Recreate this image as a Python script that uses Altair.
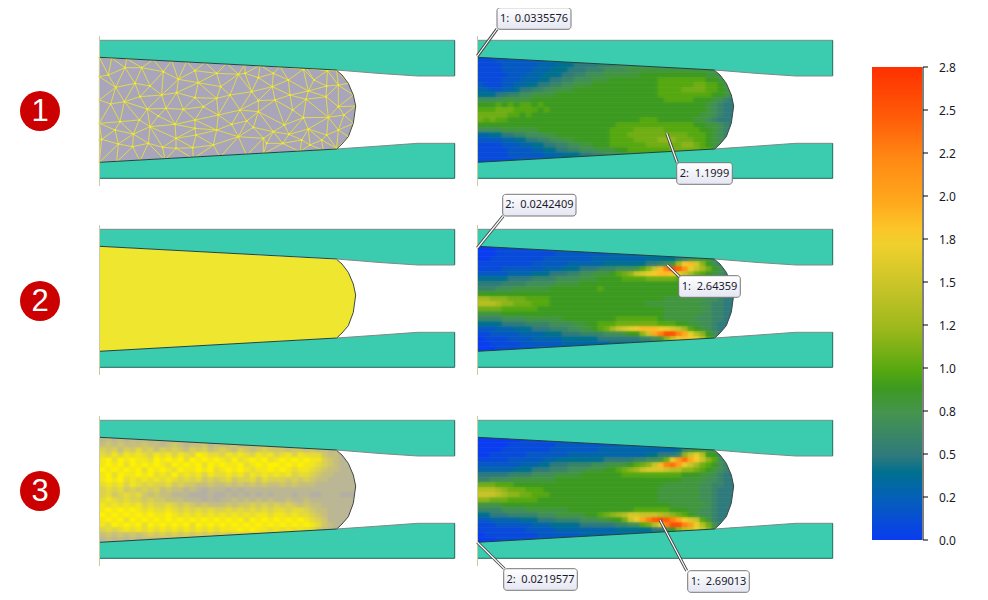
import altair as alt
import pandas as pd

# ---- geometry (image pixels) ----
PANEL_DY = [0, 189, 380]
PANEL_DX = [0, 378]
LEFT_X = 99.5
DIE_TOP_Y, DIE_BOTTOM_Y = 40.3, 178.3
UP_X = [99.5, 336.7, 380, 418, 454.7]
UP_Y = [57.3, 70, 73.5, 76, 76]
LOW_Y = [162.3, 149, 146, 143.3, 143.3]
ARC_X = [99.5, 336.7, 342, 348.3, 353.3, 355.7]
ARC_TOP = [57.3, 70.5, 75, 83.3, 95, 106]
ARC_BOT = [162.3, 149, 144, 136.7, 123.3, 106]
DIE_COL = "#3bcbae"
BILLET_GREY = "#a9a6bb"
MESH2_YEL = "#efe62f"
DENS_HI = (255, 242, 0)
DENS_LO = (169, 166, 187)

# ---- colour scale ----
CB_VALS = [0, .25, .4, .5, .75, .9, 1.0, 1.25, 1.5, 1.75, 1.85, 2.0, 2.25, 2.5, 2.8]
CB_COLS = ["#0a3cf0", "#0560b8", "#00708f", "#2f7a7c", "#45944f", "#3c9a20", "#55a810", "#9cb81c",
           "#c8c428", "#f0d02c", "#fcc428", "#ffa81c", "#ff8a14", "#ff5c08", "#ff3000"]
CB_LABELS = ["0.0", "0.2", "0.5", "0.8", "1.0", "1.2", "1.5", "1.8", "2.0", "2.2", "2.5", "2.8"]
CB_X0, CB_X1, CB_Y0, CB_Y1 = 872, 922, 540, 67

# ---- field values, one character per cell (0-9a-s = 0.0 .. 2.8) ----
ALPHA = "0123456789abcdefghijklmnopqrs"
FIELD1 = """
1112222222 2333444555 5666666666 6666666666666
1111222222 3334445555 6667777777 7777777777666
1111222223 3344455566 6777788888 8888888887766
1111122233 3444556677 7888888999 9999999988766
1111222333 4455667778 8899999999 aaaaaaaa99876
2111223344 5566778889 9999999999 aaaaaabbaa987
3322334556 6778889999 9999999999 aaaabbbbaa987
4445566778 8889999999 9999999999 aaaaaaaaa9987
7777888889 9999999999 9999999999 9aaaaa9998765
999a9a9aa9 a999999999 9999999999 9999999987655
aaabbbaaaa 9a99999999 9999999999 9999999987655
bbbbbaa9a9 9999999999 9999999999 9999999887655
babaa99999 9999999999 9999999aaa 9999998876555
9999999999 9999999999 999aaaaaaa aaaaaa9988765
7777888888 9999999999 99aaaabbbb baaaaaa998765
3344556677 7889999999 99aaabbbbb bbbbbaaa98765
2222334455 6677889999 99aaaabbbb cccbbbaa98765
1111222334 4556677889 99aaaaaabb bbbbccba98765
1111122223 3445566777 88899aaaaa aabbbbbaa9876
1111122222 2333444556 6777888999 9aaaaaaa99886
1111112222 2223334445 5556677888 8999999988876
"""
FIELD2 = """
0001111111 1112222222 2222333333 3333333444444
0001111111 1112222222 2233333333 3333344555555
0011111111 1222222223 3333333344 4445678886655
1111111112 2222233333 3444444455 678dijgc97655
1111222222 2333444555 6667778acf jnqpmhfdb9765
2222233334 4455566778 889abcfghi jjihfdba98765
4444455556 6667777888 9999aaaabb bbbaaa9987655
5555666677 7778888999 9999999999 9999999887655
6667778888 8899999999 a999999999 9999998887655
9999999999 9999999999 9999999999 9999888887665
ddcccbbbaa aa99999999 9999999999 9888888877655
eeedccbbba aa99999999 9999999988 8888888776655
bbbbaaaaaa 9999999999 9999999999 9888888876655
8888999999 9999999999 9999999999 9888888776655
6666777788 8888999999 999aaaaaaa 9888887776655
4444555566 6677778899 aaabbbbbbb aaa9988776555
2223334445 5566677889 abdfghijjj ihgfda9876555
1122222333 3444555666 6777899cfk nqqnkhec97655
0111122223 3333444444 5555555667 8cfhjihea8655
0011111222 2222333333 3344444445 5566667666555
0001111111 2222222233 3333333333 4444444444444
"""
FIELD3 = """
0000000111 1111122222 2223333333 3333333333444
0000011111 1112222222 2223333333 3333333444555
0000111111 1122222222 3333333333 3334679887655
0011111122 2222233333 3333333344 5556cfhe99655
1111122222 2334444444 4555556677 8bhlokifca765
2222222333 4455566667 778889abcf jnolhfdba9765
3333334445 5566677788 899abcdfgg gfeeccba98765
5555566667 7778888999 9999aaaaaa aaaa999887655
6677778888 8889999999 9999999999 9999888877655
bbbaaa9999 9999999999 9999999999 9888888776655
eeedcbbbaa a999999999 9999999999 8888888776555
fffedccbba aa99999999 9999999999 8888888776555
ccbbbaaaaa 9999999999 9999999999 8888888776555
8888999999 9999999999 9999999999 9988888876555
6666777788 8888899999 999999aaaa aa99988776555
4455566666 7778888899 abcdeggfff edcba98776555
2233333444 5556666777 8899bfhknp qpnkigfa86555
1112222223 3344444555 5556677abe hnqqnlheb7655
1111111122 2223333333 3334444445 579cefhfc9765
0111111111 2222222333 3333333333 4444555555555
0001111111 1111222222 2233333333 3333333333333
"""
# density of the mesh in the lower left panel: 0 = grey, 9 = solid yellow
DENSITY3 = """
3434343434 3434343434 3434343434 3333333333333
4545444544 3454344534 4453444543 4443344333333
6564657564 6565465645 6546545655 5455454434333
7686878768 7868769877 6878768786 7868777544333
8979898879 8989798989 8797898978 9898988654333
8989798989 8798989798 9889789899 8989887654333
9898989798 9879889897 8989878898 9878876544333
8979889897 8797878687 7878687878 7867765443333
8989787878 7876767565 6756675766 6565654433333
7878687676 6756554454 4545454544 5454443333333
6767565656 4544343233 3232333333 3333333333333
6756767545 4433322232 2323232323 3323322333222
7876766565 5444333232 3343434343 3433433333333
8787878676 6765654544 4545565656 5654544333333
8989898787 7876767676 6767676767 7677654433333
9898989898 8987878787 8787878878 8787765433333
8989798989 8989898989 8989798989 8989876533333
8798989798 9898979898 9898989898 9898987543333
6767878787 8787878787 8889898878 7878775433333
4545454565 6565656565 6565656565 6565543333333
3434343434 3434343434 3434343434 3434343333333
"""
CELL_W, CELL_H = 6, 5

# ---- mesh nodes of panel 1 (as read in the 3x crop) ----
MESH_NODES = [
 (28,82),(65,84),(110,86),(190,89),(245,92),(290,94),(345,97),(410,100),(465,103),(510,106),(570,110),(650,115),(712,118),(740,122),
 (775,160),(790,195),(797,228),(790,280),(775,320),(740,355),
 (700,361),(630,365),(520,372),(470,376),(390,382),(310,386),(225,390),(150,393),(80,396),(28,397),
 (28,330),(28,280),(28,210),(28,140),
 (55,135),(105,113),(155,113),(135,160),(77,172),(220,125),(265,148),(180,168),(215,195),(260,188),(315,122),(325,158),
 (380,130),(465,130),(505,143),(445,133),(550,130),(595,150),(640,118),(672,150),(712,122),(745,165),(710,168),(655,183),(600,195),(547,170),
 (485,185),(420,195),(392,170),(315,203),(380,205),(103,215),(150,200),(62,222),(172,237),(228,235),(280,238),(340,230),(385,255),(450,240),
 (505,212),(505,245),(555,210),(608,240),(648,208),(708,200),(745,230),(148,270),(90,275),(205,258),(255,283),(315,270),(380,300),(315,295),
 (425,283),(470,273),(490,292),(550,305),(583,285),(640,263),(655,297),(715,262),(762,255),(745,300),(710,315),(597,313),(520,325),(445,320),
 (180,290),(130,312),(75,300),(35,328),(85,342),(128,350),(175,340),(218,352),(258,325),(318,315),(258,355),(308,353),(370,345),(530,340),
 (578,340),(635,330),(695,330),(660,345),
]

# ---- call-outs ----
BOX_TEXT = ["1:\u00a0\u00a00.0335576", "2:\u00a0\u00a01.1999", "2:\u00a0\u00a00.0242409",
            "1:\u00a0\u00a02.64359", "2:\u00a0\u00a00.0219577", "1:\u00a0\u00a02.69013"]
BOX_X0 = [497, 676.7, 502.7, 678.7, 503.7, 687.7]
BOX_X1 = [571, 732.3, 576, 740.3, 577.3, 749.3]
BOX_Y0 = [7.7, 162.7, 194.3, 275.7, 568.7, 570.7]
BOX_Y1 = [29.3, 184.3, 216, 297.3, 590.3, 592.3]
LEAD_X0 = [477.3, 666.7, 477.3, 667.3, 477.3, 660]
LEAD_Y0 = [56, 133.3, 248, 265, 542.3, 520]
LEAD_X1 = [497, 677.3, 503.3, 680, 504.3, 686.7]
LEAD_Y1 = [29, 162.7, 216, 277.3, 568.7, 570.7]

BADGE_TEXT = ["1", "2", "3"]
BADGE_X, BADGE_Y = [40, 40, 40], [111, 301, 491]

# ---- scales: the plot space is the image's own pixel grid ----
W, H = 972, 586
XS = alt.Scale(domain=[8, 8 + W], range=[0, W], nice=False, zero=False)
YS = alt.Scale(domain=[8, 8 + H], range=[0, H], nice=False, zero=False)
def X(f="x"): return alt.X(f"{f}:Q", scale=XS, axis=None)
def Y(f="y"): return alt.Y(f"{f}:Q", scale=YS, axis=None)
def X2(f="x2"): return alt.X2(f"{f}:Q")
def Y2(f="y2"): return alt.Y2(f"{f}:Q")

def rows(txt):
    return ["".join(r.split()) for r in txt.strip().splitlines()]

def rgb(h):
    return tuple(int(h[i:i + 2], 16) for i in (1, 3, 5))

def heat_col(v):
    for i in range(len(CB_VALS) - 1):
        if v <= CB_VALS[i + 1]:
            t = (v - CB_VALS[i]) / (CB_VALS[i + 1] - CB_VALS[i])
            a, b = rgb(CB_COLS[i]), rgb(CB_COLS[i + 1])
            return "#%02x%02x%02x" % tuple(round(p + (q - p) * t) for p, q in zip(a, b))
    return CB_COLS[-1]

def dens_col(d):
    w = (d / 9) ** 1.4
    return "#%02x%02x%02x" % tuple(round(p + (q - p) * w) for p, q in zip(DENS_LO, DENS_HI))

def grad(cols, horizontal):
    n = len(cols)
    g = dict(gradient="linear", x1=0, y1=0, x2=1 if horizontal else 0, y2=0 if horizontal else 1,
             stops=[dict(offset=(i + .5) / n, color=c) for i, c in enumerate(cols)])
    return g

def strips(matrix, x0, y0):
    """One strip per row and one per column of a matrix of colours."""
    nr, nc = len(matrix), len(matrix[0])
    across = [dict(x=x0, x2=x0 + nc * CELL_W, y=y0 + r * CELL_H, y2=y0 + (r + 1) * CELL_H + .4,
                   g=grad(matrix[r], True)) for r in range(nr)]
    down = [dict(x=x0 + c * CELL_W, x2=x0 + (c + 1) * CELL_W + .4, y=y0, y2=y0 + nr * CELL_H,
                 g=grad([matrix[r][c] for r in range(nr)], False)) for c in range(nc)]
    return across, down

# ---- tables ----
row_strips, col_strips = [], []
for dy, field in zip(PANEL_DY, (FIELD1, FIELD2, FIELD3)):
    m = [[heat_col(ALPHA.index(ch) / 10) for ch in row] for row in rows(field)]
    a, d = strips(m, LEFT_X + PANEL_DX[1], UP_Y[0] + dy)
    row_strips += a
    col_strips += d
m = [[dens_col(int(ch)) for ch in row] for row in rows(DENSITY3)]
a, d = strips(m, LEFT_X, UP_Y[0] + PANEL_DY[2])
row_strips += a
col_strips += d

base = []
for i, (dy, col) in enumerate(zip(PANEL_DY, (BILLET_GREY, MESH2_YEL, BILLET_GREY))):
    for x, t, b in zip(ARC_X, ARC_TOP, ARC_BOT):
        base.append(dict(x=x, y=t + dy, y2=b + dy, k=str(i), c=col))
base = pd.DataFrame(base)

# Delaunay triangulation of the mesh nodes read above
pts = [(90 + a / 3, 30 + b / 3) for a, b in MESH_NODES]
def circum(t, P):
    (ax, ay), (bx, by), (cx, cy) = P[t[0]], P[t[1]], P[t[2]]
    d = 2 * (ax * (by - cy) + bx * (cy - ay) + cx * (ay - by))
    ux = ((ax**2 + ay**2) * (by - cy) + (bx**2 + by**2) * (cy - ay) + (cx**2 + cy**2) * (ay - by)) / d
    uy = ((ax**2 + ay**2) * (cx - bx) + (bx**2 + by**2) * (ax - cx) + (cx**2 + cy**2) * (bx - ax)) / d
    return ux, uy, (ux - ax) ** 2 + (uy - ay) ** 2
P = pts + [(-5000, -5000), (6000, -5000), (200, 8000)]
n = len(pts)
tris = [(n, n + 1, n + 2)]
for i in range(n):
    bad = []
    for t in tris:
        ux, uy, r2 = circum(t, P)
        if (P[i][0] - ux) ** 2 + (P[i][1] - uy) ** 2 < r2:
            bad.append(t)
    edges = {}
    for t in bad:
        for e in ((t[0], t[1]), (t[1], t[2]), (t[2], t[0])):
            k = tuple(sorted(e))
            edges[k] = edges.get(k, 0) + 1
    tris = [t for t in tris if t not in bad]
    tris += [(a, b, i) for (a, b), m in edges.items() if m == 1]
segs = set()
for t in tris:
    if max(t) < n:
        for e in ((t[0], t[1]), (t[1], t[2]), (t[2], t[0])):
            segs.add(tuple(sorted(e)))
mesh = pd.DataFrame([dict(x=P[a][0], y=P[a][1], x2=P[b][0], y2=P[b][1]) for a, b in segs])
nodes = pd.DataFrame(dict(x=[p[0] for p in pts], y=[p[1] for p in pts]))

dies, masks, lines, tans = [], [], [], []
APEX_PAD = 8
for dy in PANEL_DY:
    for dx in PANEL_DX:
        key = f"{dx}_{dy}"
        for x, u, l in zip(UP_X, UP_Y, LOW_Y):
            dies.append(dict(x=x + dx, y=DIE_TOP_Y + dy, y2=u + dy, k=key + "t"))
            dies.append(dict(x=x + dx, y=l + dy, y2=DIE_BOTTOM_Y + dy, k=key + "b"))
        # white gap between the nose of the billet and the die
        gx = ARC_X[1:] + [ARC_X[-1] + APEX_PAD]
        gt = ARC_TOP[1:] + [ARC_TOP[-1]]
        gb = ARC_BOT[1:] + [ARC_BOT[-1]]
        for x, t, b in zip(gx, gt, gb):
            u = UP_Y[1] + (x - UP_X[1]) * (UP_Y[3] - UP_Y[1]) / (UP_X[3] - UP_X[1])
            l = LOW_Y[1] + (x - UP_X[1]) * (LOW_Y[3] - LOW_Y[1]) / (UP_X[3] - UP_X[1])
            masks.append(dict(x=x + dx, y=u + dy, y2=t + dy, k=key + "t"))
            masks.append(dict(x=x + dx, y=b + dy, y2=l + dy, k=key + "b"))
        def path(name, col, xs, ys):
            for j, (a, b) in enumerate(zip(xs, ys)):
                lines.append(dict(x=a + dx, y=b + dy, k=key + name, c=col, o=j))
        DARK, GREY, EDGE = "#1d6a5c", "#7e8a86", "#22433f"
        path("a", GREY, [UP_X[0], UP_X[-1]], [DIE_TOP_Y, DIE_TOP_Y])
        path("b", DARK, [UP_X[-1], UP_X[-1]], [DIE_TOP_Y, UP_Y[-1]])
        path("c", GREY, UP_X[::-1][:4], UP_Y[::-1][:4])
        path("d", EDGE, UP_X[:2], UP_Y[:2])
        path("e", EDGE, UP_X[:2], LOW_Y[:2])
        path("f", GREY, UP_X[1:], LOW_Y[1:])
        path("g", DARK, [UP_X[-1], UP_X[-1]], [LOW_Y[-1], DIE_BOTTOM_Y])
        path("h", DARK, [UP_X[0], UP_X[-1]], [DIE_BOTTOM_Y, DIE_BOTTOM_Y])
        path("i", "#3f4648", ARC_X[1:] + ARC_X[1:-1][::-1], ARC_TOP[1:] + ARC_BOT[1:-1][::-1])
        tans.append(dict(x=LEFT_X + dx, y=36 + dy, y2=186 + dy))
dies, masks, lines, tans = map(pd.DataFrame, (dies, masks, lines, tans))

badges = pd.DataFrame(dict(x=BADGE_X, y=BADGE_Y, t=BADGE_TEXT))
boxes = pd.DataFrame(dict(x=BOX_X0, x2=BOX_X1, y=BOX_Y0, y2=BOX_Y1, t=BOX_TEXT))
boxes["cx"] = (boxes.x + boxes.x2) / 2
boxes["cy"] = (boxes.y + boxes.y2) / 2
leads = pd.DataFrame(dict(x=LEAD_X0, y=LEAD_Y0, x2=LEAD_X1, y2=LEAD_Y1))

cb_span = CB_Y0 - CB_Y1
ticks = pd.DataFrame(dict(y=[CB_Y0 - cb_span * i / 11 for i in range(12)], t=CB_LABELS))
ticks["x"], ticks["x2"], ticks["lx"] = CB_X1 + 1, CB_X1 + 6, CB_X1 + 17
cb_box = pd.DataFrame(dict(x=[CB_X0], x2=[CB_X1], y=[CB_Y1], y2=[CB_Y0]))
cb_axis = pd.DataFrame(dict(x=[CB_X1 + 1], y=[CB_Y1], y2=[CB_Y0]))
grad_cb = alt.LinearGradient(gradient="linear", x1=0, x2=0, y1=1, y2=0,
    stops=[alt.GradientStop(color=c, offset=v / 2.8) for v, c in zip(CB_VALS, CB_COLS)])
grad_box = alt.LinearGradient(gradient="linear", x1=0, x2=0, y1=0, y2=1,
    stops=[alt.GradientStop(color="#ffffff", offset=0), alt.GradientStop(color="#e4e6f2", offset=1)])

layers = [
    alt.Chart(base).mark_area(opacity=1).encode(X(), Y(), Y2(), detail="k:N",
        color=alt.Color("c:N", scale=None)),
    alt.Chart(alt.Data(values=row_strips)).mark_rect().encode(X(), X2(), Y(), Y2(),
        fill=alt.Fill("g:N", scale=None)),
    alt.Chart(alt.Data(values=col_strips)).mark_rect(opacity=.5).encode(X(), X2(), Y(), Y2(),
        fill=alt.Fill("g:N", scale=None)),
    alt.Chart(mesh).mark_rule(color="#e6df3c", strokeWidth=.9).encode(X(), Y(), X2(), Y2()),
    alt.Chart(nodes).mark_point(filled=True, color="#f2ec30", size=5, opacity=1).encode(X(), Y()),
    alt.Chart(masks).mark_area(color="white", opacity=1).encode(X(), Y(), Y2(), detail="k:N"),
    alt.Chart(dies).mark_area(color=DIE_COL, opacity=1).encode(X(), Y(), Y2(), detail="k:N"),
    alt.Chart(lines).mark_line(strokeWidth=1).encode(X(), Y(), detail="k:N", order="o:Q",
        color=alt.Color("c:N", scale=None)),
    alt.Chart(tans).mark_rule(color="#c9c9a6", strokeWidth=1).encode(X(), Y(), Y2()),
    alt.Chart(badges).mark_point(filled=True, shape="circle", color="#cc0000", size=1600, opacity=1).encode(X(), Y()),
    alt.Chart(badges).mark_text(color="white", fontSize=31, font="Liberation Sans", baseline="middle", align="center", dy=1).encode(X(), Y(), text="t:N"),
    alt.Chart(cb_box).mark_rect(fill=grad_cb).encode(X(), X2(), Y(), Y2()),
    alt.Chart(cb_axis).mark_rule(color="black", strokeWidth=1).encode(X(), Y(), Y2()),
    alt.Chart(ticks).mark_rule(color="black", strokeWidth=1).encode(X(), X2(), Y()),
    alt.Chart(ticks).mark_text(color="#1a1a2a", fontSize=12, font="Noto Sans", align="left", baseline="middle", dy=1).encode(X("lx"), Y(), text="t:N"),
    alt.Chart(leads).mark_rule(color="#444444", strokeWidth=3).encode(X(), Y(), X2(), Y2()),
    alt.Chart(leads).mark_rule(color="white", strokeWidth=1.2).encode(X(), Y(), X2(), Y2()),
    alt.Chart(boxes).mark_rect(fill=grad_box, stroke="#777777", strokeWidth=1, cornerRadius=3).encode(X(), X2(), Y(), Y2()),
    alt.Chart(boxes).mark_text(color="#1a1a2a", fontSize=11, font="Noto Sans", align="center", baseline="middle").encode(X("cx"), Y("cy"), text="t:N"),
]

chart = (alt.layer(*layers)
         .resolve_scale(color="independent")
         .properties(width=W, height=H, padding=0, autosize=alt.AutoSizeParams(type="none"))
         .configure_view(stroke=None))
chart.save("out.html", embed_options={"renderer": "svg", "actions": False})
